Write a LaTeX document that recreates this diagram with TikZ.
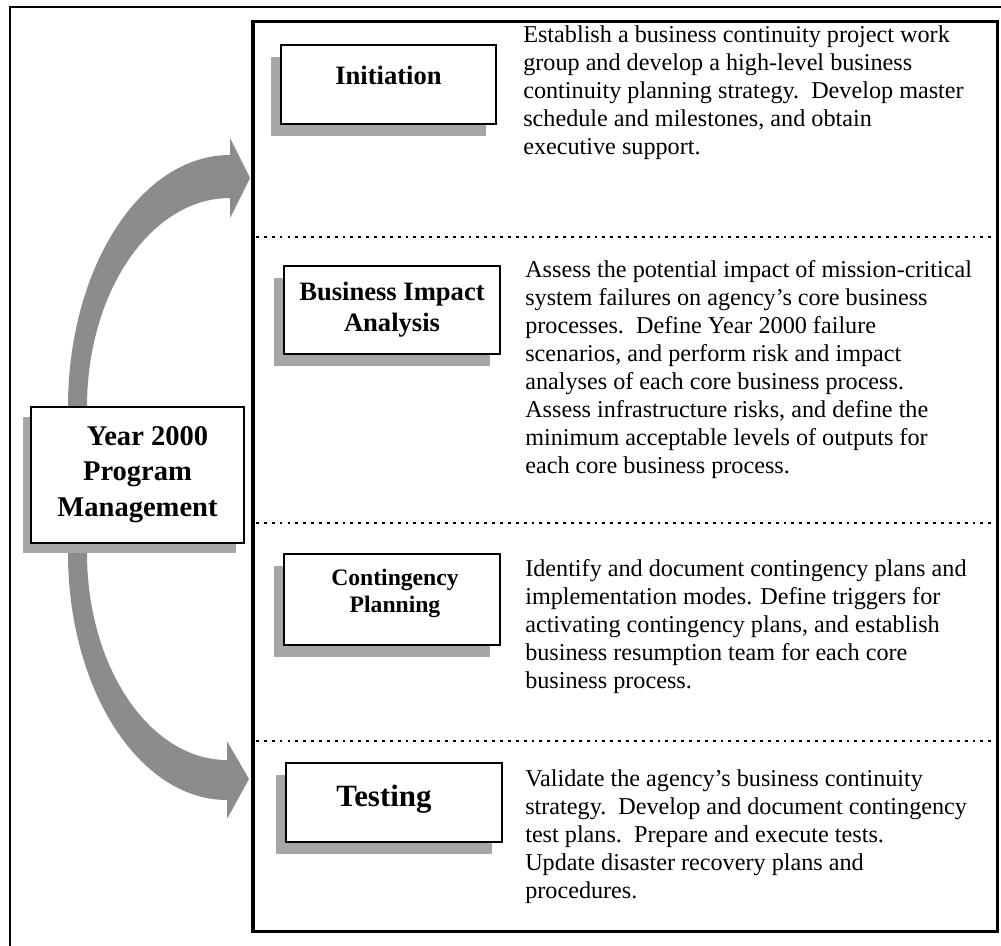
\documentclass[tikz,border=0pt]{standalone}
\usepackage{fontspec}
\setmainfont{Liberation Serif}
\usetikzlibrary{shadows}

\definecolor{bandgray}{RGB}{140,140,140}
\definecolor{shadegray}{RGB}{166,166,166}

\begin{document}
\begin{tikzpicture}[x=0.025cm,y=-0.025cm,
  box/.style={draw,fill=white,line width=1pt,inner sep=0pt,
    general shadow={fill=shadegray,shadow xshift=-0.26cm,shadow yshift=-0.3cm}},
  bigbox/.style={draw,fill=white,line width=1pt,inner sep=0pt,
    general shadow={fill=shadegray,shadow xshift=-0.2cm,shadow yshift=-0.25cm}},
  title/.style={font=\bfseries\fontsize{18.9}{22}\selectfont,align=center,inner sep=0pt},
  desc/.style={font=\fontsize{17.2}{19.9}\selectfont,align=left,anchor=north west,inner sep=0pt},
  sep/.style={line width=1.3pt,dash pattern=on 2pt off 3.6pt}]

  \useasboundingbox (0,0) rectangle (1001,946);

  % frames
  \draw[line width=1.4pt] (10,946) -- (10,7) -- (1001,7);
  \draw[sep] (256,237) -- (995,237);
  \draw[sep] (256,523) -- (995,523);
  \draw[sep] (256,741) -- (995,741);

  % curved band with both heads
  \fill[bandgray] (68,407) .. controls (68,268) and (140.5,155) .. (230,155)
    -- (230,138) -- (250,178) -- (230,218) -- (230,198)
    .. controls (151,198) and (87,291.6) .. (87,407)
    -- (87,553) .. controls (87,667) and (149.7,760) .. (227,760)
    -- (227,741) -- (249,779) -- (227,819) -- (227,800)
    .. controls (139.2,800) and (68,689.4) .. (68,553) -- cycle;

  \draw[line width=2.8pt] (253,21.5) rectangle (997.5,931.5);

  % program box
  \node[bigbox,minimum width=5.325cm,minimum height=3.4cm] (prog) at (137.5,475) {};
  \node[title,font=\bfseries\fontsize{20.3}{25.2}\selectfont,anchor=north] (progT) at (137.5,426)
    {\hspace*{0.7em}Year 2000\\Program\\Management};

  % phase boxes
  \node[box,minimum width=5.375cm,minimum height=1.975cm] (init) at (388.5,84.5) {};
  \node[title,anchor=base] (initT) at (388.5,85) {Initiation};

  \node[box,minimum width=5.4cm,minimum height=2.2cm] (bia) at (392,310) {};
  \node[title,anchor=north] (biaT) at (392,281.5) {Business Impact\\Analysis};

  \node[box,minimum width=5.4cm,minimum height=2.275cm] (cont) at (392,599.5) {};
  \node[title,font=\bfseries\fontsize{16.8}{19.2}\selectfont,anchor=north] (contT) at (395,569)
    {Contingency\\Planning};

  \node[box,minimum width=5.4cm,minimum height=1.975cm] (test) at (394,802.5) {};
  \node[title,font=\bfseries\fontsize{22}{26}\selectfont,anchor=base] (testT) at (384,806) {Testing};

  % descriptions
  \node[desc] (initD) at (523,25.5) {Establish a business continuity project work\\
    group and develop a high-level business\\
    continuity planning strategy.\ \ Develop master\\
    schedule and milestones, and obtain\\
    executive support.};

  \node[desc] (biaD) at (525,260.5) {Assess the potential impact of mission-critical\\
    system failures on agency's core business\\
    processes.\ \ Define Year 2000 failure\\
    scenarios, and perform risk and impact\\
    analyses of each core business process.\\
    Assess infrastructure risks, and define the\\
    minimum acceptable levels of outputs for\\
    each core business process.};

  \node[desc] (contD) at (525,559.5) {Identify and document contingency plans and\\
    implementation modes. Define triggers for\\
    activating contingency plans, and establish\\
    business resumption team for each core\\
    business process.};

  \node[desc] (testD) at (525,769.5) {Validate the agency's business continuity\\
    strategy.\ \ Develop and document contingency\\
    test plans.\ \ Prepare and execute tests.\\
    Update disaster recovery plans and\\
    procedures.};

\end{tikzpicture}
\end{document}
